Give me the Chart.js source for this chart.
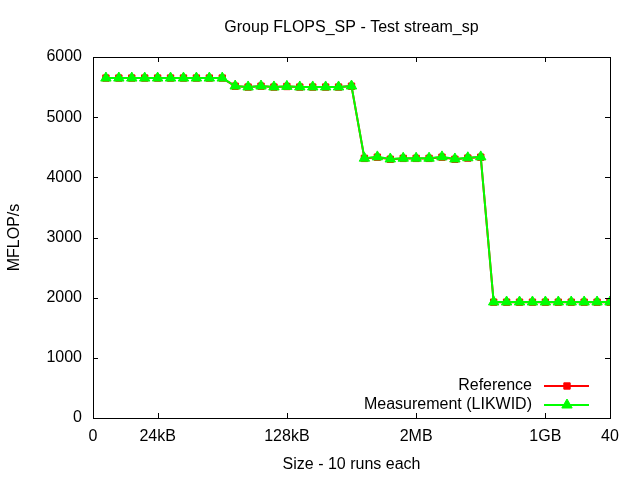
<!DOCTYPE html>
<html>
<head>
<meta charset="utf-8">
<script src="https://cdn.jsdelivr.net/npm/chart.js@4/dist/chart.umd.min.js"></script>
<style>
  html, body { margin: 0; padding: 0; background: #fff; }
  #wrap { width: 640px; height: 480px; }
</style>
</head>
<body>
<div id="wrap"><canvas id="chart" width="640" height="480"></canvas></div>
<script>
// run index 1..40, 10 runs per size
const runs = [1,2,3,4,5,6,7,8,9,10,11,12,13,14,15,16,17,18,19,20,21,22,23,24,25,26,27,28,29,30,31,32,33,34,35,36,37,38,39,40];
const reference = [5650,5650,5650,5650,5650,5650,5650,5650,5650,5650,
                   5515,5500,5515,5500,5510,5500,5500,5500,5500,5515,
                   4315,4335,4300,4315,4315,4315,4335,4300,4320,4335,
                   1925,1925,1925,1925,1925,1925,1925,1925,1925,1925];
const measurement = [5650,5650,5650,5650,5650,5650,5650,5650,5650,5650,
                     5518,5502,5518,5502,5512,5502,5502,5502,5502,5518,
                     4318,4340,4305,4318,4318,4318,4340,4305,4325,4340,
                     1928,1928,1928,1928,1928,1928,1928,1928,1928,1928];
const xTickValues = [0, 5, 15, 25, 35, 40];
const xTickLabels = ['0', '24kB', '128kB', '2MB', '1GB', '40'];

const FONT = { family: 'Liberation Sans, Arial, sans-serif', size: 16, weight: 'normal' };

// gnuplot-like frame with inward, mirrored tick marks
const framePlugin = {
  id: 'frame',
  afterDraw(chart) {
    const { ctx, chartArea: a, scales } = chart;
    const tl = 5;
    ctx.save();
    ctx.strokeStyle = '#000';
    ctx.lineWidth = 1;
    ctx.beginPath();
    scales.x.ticks.forEach(t => {
      const px = Math.round(scales.x.getPixelForValue(t.value)) + 0.5;
      ctx.moveTo(px, a.bottom); ctx.lineTo(px, a.bottom - tl);
      ctx.moveTo(px, a.top); ctx.lineTo(px, a.top + tl);
    });
    scales.y.ticks.forEach(t => {
      const py = Math.round(scales.y.getPixelForValue(t.value)) + 0.5;
      ctx.moveTo(a.left, py); ctx.lineTo(a.left + tl, py);
      ctx.moveTo(a.right, py); ctx.lineTo(a.right - tl, py);
    });
    ctx.stroke();
    ctx.strokeRect(Math.round(a.left) + 0.5, Math.round(a.top) + 0.5,
                   Math.round(a.right - a.left), Math.round(a.bottom - a.top));

    // legend, bottom right inside the plot
    ctx.font = FONT.size + 'px ' + FONT.family;
    ctx.textAlign = 'right';
    ctx.textBaseline = 'middle';
    const rows = [386, 405];
    chart.data.datasets.forEach((ds, i) => {
      const y = rows[i];
      ctx.fillStyle = '#000';
      ctx.fillText(ds.label, 532, y);
      ctx.strokeStyle = ds.borderColor;
      ctx.lineWidth = ds.borderWidth;
      ctx.beginPath();
      ctx.moveTo(544, y); ctx.lineTo(589, y);
      ctx.stroke();
      ctx.fillStyle = ds.pointBackgroundColor;
      ctx.strokeStyle = ds.pointBorderColor;
      ctx.lineWidth = 1;
      Chart.helpers.drawPoint(ctx, {
        pointStyle: ds.pointStyle, radius: ds.pointRadius, borderWidth: 1
      }, 567, y);
    });
    ctx.restore();
  }
};

new Chart(document.getElementById('chart'), {
  type: 'line',
  data: {
    labels: runs,
    datasets: [
      {
        label: 'Reference',
        data: runs.map((r, i) => ({ x: r, y: reference[i] })),
        borderColor: '#ff0000', backgroundColor: '#ff0000',
        pointBackgroundColor: '#ff0000', pointBorderColor: '#ff0000',
        borderWidth: 2, pointStyle: 'rect', pointRadius: 4.5, pointBorderWidth: 1,
        order: 2
      },
      {
        label: 'Measurement (LIKWID)',
        data: runs.map((r, i) => ({ x: r, y: measurement[i] })),
        borderColor: '#00ff00', backgroundColor: '#00ff00',
        pointBackgroundColor: '#00ff00', pointBorderColor: '#00ff00',
        borderWidth: 2, pointStyle: 'triangle', pointRadius: 6, pointBorderWidth: 1,
        order: 1
      }
    ]
  },
  options: {
    responsive: false,
    animation: false,
    devicePixelRatio: 1,
    layout: { padding: { left: 0, right: 30, top: 0, bottom: 0 } },
    plugins: {
      legend: { display: false },
      tooltip: { enabled: false },
      title: {
        display: true,
        text: 'Group FLOPS_SP - Test stream_sp',
        color: '#000',
        font: FONT,
        fullSize: false,
        padding: { top: 18.4, bottom: 19.4 }
      }
    },
    scales: {
      x: {
        type: 'linear', min: 0, max: 40,
        afterBuildTicks: s => { s.ticks = xTickValues.map(v => ({ value: v })); },
        afterFit: s => { s.height = 62; },
        grid: { display: false, drawTicks: false },
        border: { display: false },
        ticks: {
          color: '#000', font: FONT, padding: 9.4, maxRotation: 0, autoSkip: false,
          callback: v => xTickLabels[xTickValues.indexOf(v)]
        },
        title: {
          display: true, text: 'Size - 10 runs each', color: '#000', font: FONT,
          padding: { top: 0, bottom: 5.4 }
        }
      },
      y: {
        min: 0, max: 6000,
        afterFit: s => { s.width = 93; },
        grid: { display: false, drawTicks: false },
        border: { display: false },
        ticks: { color: '#000', font: FONT, padding: 11, stepSize: 1000, callback: v => String(v) },
        title: {
          display: true, text: 'MFLOP/s', color: '#000', font: FONT,
          padding: { top: 5.4, bottom: 0 }
        }
      }
    }
  },
  plugins: [framePlugin]
});
</script>
</body>
</html>
